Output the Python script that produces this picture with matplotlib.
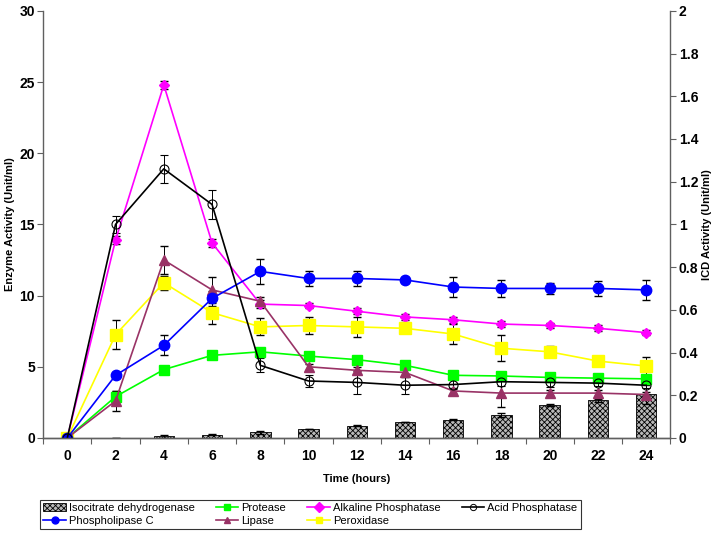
import matplotlib
matplotlib.use("Agg")
import matplotlib.pyplot as plt
from matplotlib.lines import Line2D
from matplotlib.patches import Patch

plt.rcParams['font.family'] = ['Liberation Sans', 'DejaVu Sans']
plt.rcParams['hatch.linewidth'] = 0.6

hours = [0, 2, 4, 6, 8, 10, 12, 14, 16, 18, 20, 22, 24]

icd = [0, 0.002, 0.007, 0.015, 0.026, 0.043, 0.058, 0.074, 0.085, 0.107, 0.154, 0.176, 0.205]
icd_err = [0, 0, 0.005, 0.003, 0.008, 0, 0.002, 0.001, 0.002, 0.008, 0.005, 0.006, 0.008]

protease = [0, 2.9, 4.8, 5.8, 6.05, 5.75, 5.5, 5.1, 4.4, 4.35, 4.25, 4.2, 4.15]
protease_err = [0, 0.4, 0.2, 0.2, 0.2, 0.2, 0.2, 0.2, 0.2, 0.2, 0.2, 0.2, 0.2]

alkaline = [0, 13.9, 24.8, 13.7, 9.4, 9.3, 8.9, 8.5, 8.3, 8.0, 7.9, 7.7, 7.4]
alkaline_err = [0, 0.3, 0.3, 0.3, 0.3, 0.2, 0.2, 0.2, 0.2, 0.2, 0.2, 0.2, 0.2]

acid = [0, 15.0, 18.9, 16.4, 5.1, 4.0, 3.9, 3.7, 3.75, 3.95, 3.9, 3.85, 3.7]
acid_err = [0, 0.6, 1.0, 1.0, 0.5, 0.4, 0.8, 0.6, 0.3, 0.3, 0.3, 0.2, 0.2]

phospholipase = [0, 4.4, 6.5, 9.8, 11.7, 11.2, 11.2, 11.1, 10.6, 10.5, 10.5, 10.5, 10.4]
phospholipase_err = [0, 0.2, 0.7, 0.5, 0.9, 0.5, 0.5, 0.2, 0.7, 0.6, 0.4, 0.5, 0.7]

lipase = [0, 2.6, 12.5, 10.4, 9.6, 5.0, 4.75, 4.6, 3.3, 3.15, 3.15, 3.15, 3.05]
lipase_err = [0, 0.7, 1.0, 0.9, 0.3, 0.2, 0.2, 0.3, 0.2, 1.0, 0.2, 0.2, 0.7]

peroxidase = [0, 7.25, 10.9, 8.8, 7.8, 7.9, 7.8, 7.7, 7.3, 6.3, 6.05, 5.4, 5.05]
peroxidase_err = [0, 1.0, 0.5, 0.8, 0.6, 0.6, 0.7, 0.3, 0.7, 0.9, 0.4, 0.3, 0.6]

fig = plt.figure(figsize=(7.2, 5.42), dpi=100)
ax = fig.add_axes([0.06, 0.192, 0.871, 0.788])
ax2 = ax.twinx()

ax2.bar(hours, icd, width=0.85, color='#b8b8b8', edgecolor='black', hatch='xxxxxx', linewidth=0.6)
ax2.errorbar(hours, icd, yerr=icd_err, fmt='none', ecolor='black', elinewidth=0.7, capsize=3)

ax.set_zorder(ax2.get_zorder() + 1)
ax.patch.set_visible(False)

series = [
    ('Protease', protease, protease_err, '#00ff00', 's', 7.5),
    ('Alkaline Phosphatase', alkaline, alkaline_err, '#ff00ff', 'D', 5.5),
    ('Peroxidase', peroxidase, peroxidase_err, '#ffff00', 's', 8.5),
    ('Lipase', lipase, lipase_err, '#993366', '^', 7.5),
    ('Phospholipase C', phospholipase, phospholipase_err, '#0000ff', 'o', 7.5),
]
handle = {}
for name, y, err, color, marker, ms in series:
    ax.errorbar(hours, y, yerr=err, color=color, marker=marker, ms=ms, lw=1.2,
                mfc=color, mec=color, ecolor='black', elinewidth=0.7, capsize=3)
    handle[name] = Line2D([], [], color=color, marker=marker, ms=5, lw=1.2)
ax.errorbar(hours, acid, yerr=acid_err, color='black', marker='o', ms=6.5, lw=1.2,
            mfc='none', mec='black', mew=0.8, ecolor='black', elinewidth=0.7, capsize=3)
handle['Acid Phosphatase'] = Line2D([], [], color='black', marker='o', ms=4.5, lw=1.2,
                                    mfc='none', mew=0.7)
handle['Isocitrate dehydrogenase'] = Patch(facecolor='#b8b8b8', edgecolor='black',
                                           hatch='xxxxxx', linewidth=0.6)

ax.set_xlim(-1, 25)
ax.set_ylim(0, 30)
ax2.set_ylim(0, 2)
ax.set_yticks(range(0, 31, 5))
ax2.set_yticks([0, 0.2, 0.4, 0.6, 0.8, 1, 1.2, 1.4, 1.6, 1.8, 2])
ax2.set_yticklabels(['0', '0.2', '0.4', '0.6', '0.8', '1', '1.2', '1.4', '1.6', '1.8', '2'])

ax.set_xticks(range(-1, 26, 2))
ax.set_xticklabels([])
ax.set_xticks(hours, minor=True)
ax.set_xticklabels([str(h) for h in hours], minor=True)
ax.tick_params(axis='x', which='minor', length=0, pad=8)
ax.tick_params(axis='x', which='major', length=4, direction='out', color='#606060')

for a in (ax, ax2):
    a.spines['top'].set_visible(False)
    for s in a.spines.values():
        s.set_color('#606060')
        s.set_linewidth(1.0)
    a.tick_params(axis='y', length=4, color='#606060', direction='out', pad=2)
ax2.spines['left'].set_visible(False)
ax.spines['right'].set_visible(False)

for lab in ax.get_yticklabels() + ax2.get_yticklabels() + ax.get_xticklabels(minor=True):
    lab.set_fontweight('bold')
    lab.set_fontsize(10)

ax.set_xlabel('Time (hours)', fontsize=8, fontweight='bold', labelpad=8)
ax.set_ylabel('Enzyme Activity (Unit/ml)', fontsize=8, fontweight='bold', labelpad=3)
ax2.set_ylabel('ICD Activity (Unit/ml)', fontsize=8, fontweight='bold', rotation=90, labelpad=3)

order = ['Isocitrate dehydrogenase', 'Phospholipase C', 'Protease', 'Lipase',
         'Alkaline Phosphatase', 'Peroxidase', 'Acid Phosphatase']
leg = fig.legend([handle[k] for k in order], order, ncol=4, loc='upper left',
                 bbox_to_anchor=(0.048, 0.088), frameon=True, fancybox=False,
                 edgecolor='black', fontsize=8, handlelength=2.0, borderpad=0.3,
                 labelspacing=0.25, columnspacing=1.9, handletextpad=0.3)
leg.get_frame().set_linewidth(0.8)

fig.savefig('out.png', dpi=100)
